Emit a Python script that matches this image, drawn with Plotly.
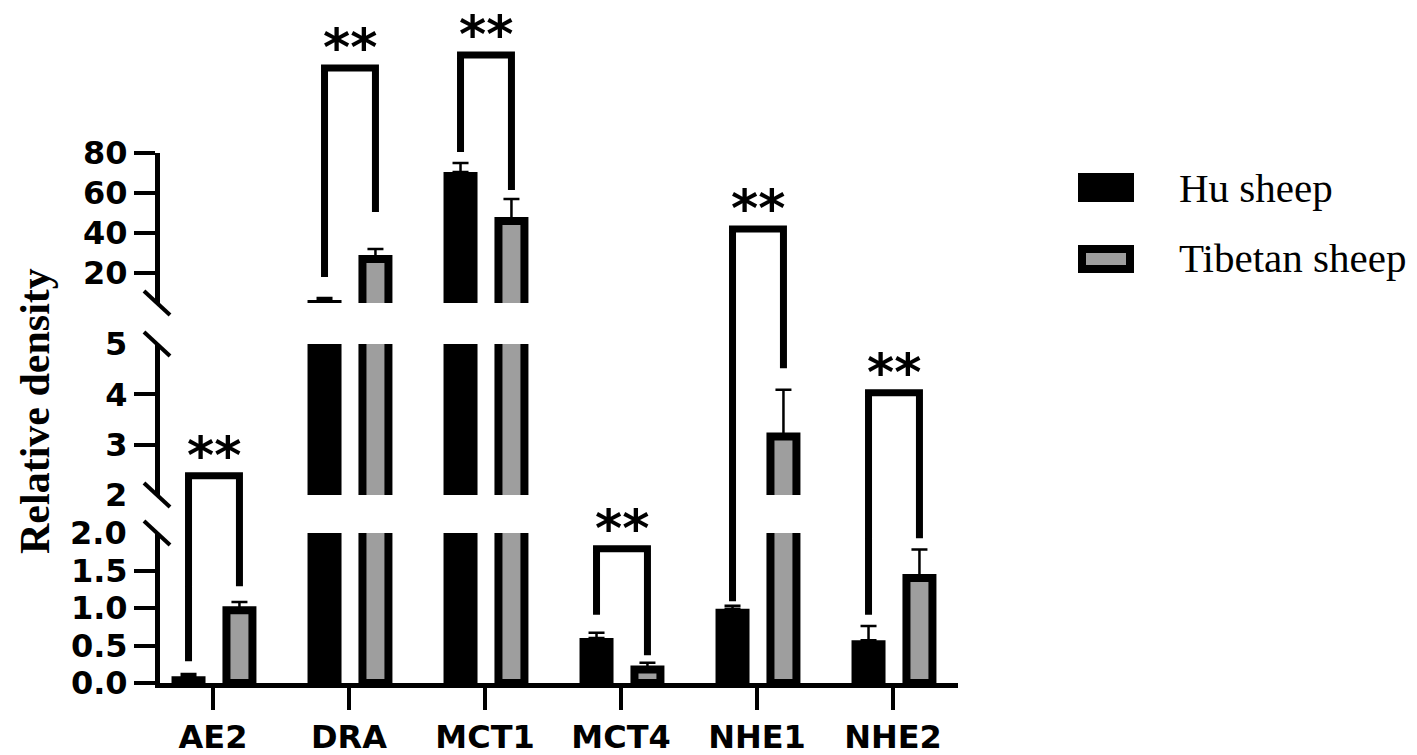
import plotly.graph_objects as go

# ---------------- data ----------------
categories = ["AE2", "DRA", "MCT1", "MCT4", "NHE1", "NHE2"]
hu_mean = [0.09, 6.5, 70.5, 0.60, 0.99, 0.57]
hu_err = [0.03, 1.0, 4.5, 0.07, 0.04, 0.19]
tib_mean = [0.97, 27.0, 46.0, 0.18, 3.16, 1.40]
tib_err = [0.11, 5.0, 11.0, 0.09, 0.93, 0.38]

# significance brackets (values on the broken axis)
bracket_left = [0.29, 18.0, 80.5, 0.91, 1.09, 0.91]
bracket_right = [1.29, 50.5, 61.5, 0.37, 4.52, 1.93]
bracket_top = [2.38, 122.5, 129.0, 1.79, 42.0, 4.03]
sig_labels = ["**", "**", "**", "**", "**", "**"]

# broken axis segments
seg_bottom = (0, 2)
seg_middle = (2, 5)
seg_top = (5, 80)
ticks_bottom = [0, 0.5, 1.0, 1.5]
ticktext_bottom = ["0.0", "0.5", "1.0", "1.5"]
ticks_middle = [3, 4]
ticktext_middle = ["3", "4"]
ticks_top = [20, 40, 60, 80]
ticktext_top = ["20", "40", "60", "80"]
# labels shown at the break ends (no tick mark)
break_labels = [(2, "2.0", "bottom"), (2, "2", "middle"), (5, "5", "middle")]

series_names = ["Hu sheep", "Tibetan sheep"]

# ---------------- layout geometry (pixels) ----------------
W, H = 1417, 755
ML, MR, MT, MB = 160, 459, 10, 72
PW = W - ML - MR
PH = H - MT - MB


def px2x(px):
    return (px - ML) / PW


def px2y(py):
    return (H - MB - py) / PH


dom_bottom = [px2y(683), px2y(533)]
dom_middle = [px2y(495), px2y(344)]
dom_top = [px2y(303), px2y(153)]
segs = [(seg_bottom, dom_bottom), (seg_middle, dom_middle), (seg_top, dom_top)]


def to_paper(v):
    for i, ((lo, hi), (d0, d1)) in enumerate(segs):
        if v <= hi or i == len(segs) - 1:
            return d0 + (v - lo) / (hi - lo) * (d1 - d0)


xs = list(range(len(categories)))
HU_W, HU_OFF = 0.25, -0.305
TIB_W, TIB_OFF = 0.191, 0.099
hu_c = HU_OFF + HU_W / 2
tib_c = TIB_OFF + TIB_W / 2

GRAY = "#9e9e9e"
tickfont = dict(family="DejaVu Sans", size=32, color="black", weight="bold")


def in_seg(vals, lo):
    # a bar only reaches a segment if its value exceeds the segment's lower bound
    return [v if v > lo else None for v in vals]


fig = go.Figure()
for ax, (lo, hi) in zip(["y", "y2", "y3"], [seg_bottom, seg_middle, seg_top]):
    fig.add_trace(go.Bar(
        x=xs, y=in_seg(hu_mean, lo), width=HU_W, offset=HU_OFF, name=series_names[0],
        marker=dict(color="black", line=dict(width=0)),
        error_y=dict(type="data", array=hu_err, arrayminus=[0] * len(hu_err),
                     symmetric=False, color="black", thickness=2.5, width=8),
        yaxis=ax, showlegend=False, hoverinfo="skip"))
    fig.add_trace(go.Bar(
        x=xs, y=in_seg(tib_mean, lo), width=TIB_W, offset=TIB_OFF, name=series_names[1],
        marker=dict(color=GRAY, line=dict(color="black", width=8)),
        error_y=dict(type="data", array=tib_err, arrayminus=[0] * len(tib_err),
                     symmetric=False, color="black", thickness=2.5, width=8),
        yaxis=ax, showlegend=False, hoverinfo="skip"))

yax_common = dict(anchor="x", showline=True, linewidth=5, linecolor="black",
                  ticks="outside", ticklen=21, tickwidth=4, tickcolor="black",
                  showgrid=False, zeroline=False, tickfont=tickfont, tickmode="array",
                  automargin=False)

shapes = []
annotations = []

# significance brackets and stars
for i in xs:
    xl, xr = i + hu_c, i + tib_c
    yb_l, yb_r, yt = to_paper(bracket_left[i]), to_paper(bracket_right[i]), to_paper(bracket_top[i])
    shapes.append(dict(type="path", xref="x", yref="paper",
                       path=f"M{xl},{yb_l} L{xl},{yt} L{xr},{yt} L{xr},{yb_r}",
                       line=dict(color="black", width=7)))
    annotations.append(dict(x=(xl + xr) / 2, y=yt, xref="x", yref="paper",
                            text=sig_labels[i], showarrow=False,
                            xanchor="center", yanchor="middle", yshift=21,
                            font=dict(family="DejaVu Sans", size=52, color="black",
                                      weight="bold")))

# break marks on y axis
for b in [533, 495, 344, 303]:
    shapes.append(dict(type="line", xref="paper", yref="paper",
                       x0=px2x(157 - 13), y0=px2y(b - 12), x1=px2x(157 + 13), y1=px2y(b + 12),
                       line=dict(color="black", width=4)))

# labels at break ends
for v, txt, seg in break_labels:
    (lo, hi), (d0, d1) = dict(bottom=segs[0], middle=segs[1])[seg]
    yy = d0 + (v - lo) / (hi - lo) * (d1 - d0)
    annotations.append(dict(x=px2x(129), y=yy, xref="paper", yref="paper", text=txt,
                            showarrow=False, xanchor="right", yanchor="middle",
                            font=tickfont))

# y title
annotations.append(dict(x=px2x(35), y=px2y(411), xref="paper", yref="paper",
                        text="Relative density", textangle=-90, showarrow=False,
                        xanchor="center", yanchor="middle",
                        font=dict(family="Liberation Serif", size=42, color="black",
                                  weight="bold")))

# legend (drawn)
shapes.append(dict(type="rect", xref="paper", yref="paper",
                   x0=px2x(1078), x1=px2x(1134), y0=px2y(202), y1=px2y(173),
                   fillcolor="black", line=dict(width=0)))
shapes.append(dict(type="rect", xref="paper", yref="paper",
                   x0=px2x(1082), x1=px2x(1130), y0=px2y(269), y1=px2y(249),
                   fillcolor=GRAY, line=dict(color="black", width=8)))
for name, cy in zip(series_names, [188, 258]):
    annotations.append(dict(x=px2x(1177), y=px2y(cy), xref="paper", yref="paper",
                            text=name, showarrow=False, xanchor="left", yanchor="middle",
                            font=dict(family="Liberation Serif", size=41, color="black")))

fig.update_layout(
    width=W, height=H,
    margin=dict(l=ML, r=MR, t=MT, b=MB, autoexpand=False),
    paper_bgcolor="white", plot_bgcolor="white",
    barmode="overlay",
    xaxis=dict(range=[(ML - 213) / 136, (958 - 213) / 136], tickmode="array",
               tickvals=xs, ticktext=categories, anchor="y", showline=True,
               linewidth=5, linecolor="black", ticks="outside", ticklen=22,
               tickwidth=4, tickcolor="black", showgrid=False, zeroline=False,
               tickfont=tickfont, automargin=False),
    yaxis=dict(domain=dom_bottom, range=list(seg_bottom), tickvals=ticks_bottom,
               ticktext=ticktext_bottom, **yax_common),
    yaxis2=dict(domain=dom_middle, range=list(seg_middle), tickvals=ticks_middle,
                ticktext=ticktext_middle, **yax_common),
    yaxis3=dict(domain=dom_top, range=list(seg_top), tickvals=ticks_top,
                ticktext=ticktext_top, **yax_common),
    shapes=shapes,
    annotations=annotations,
)

post = (
    "var gd=document.getElementById('{plot_id}');"
    "document.documentElement.style.margin='0';"
    "document.documentElement.style.overflow='hidden';"
    "document.body.style.margin='0';document.body.style.padding='0';"
    "document.body.style.overflow='hidden';"
    "gd.style.position='fixed';gd.style.left='0px';gd.style.top='0px';"
)
fig.write_html("out.html", post_script=post, config={"displayModeBar": False})
